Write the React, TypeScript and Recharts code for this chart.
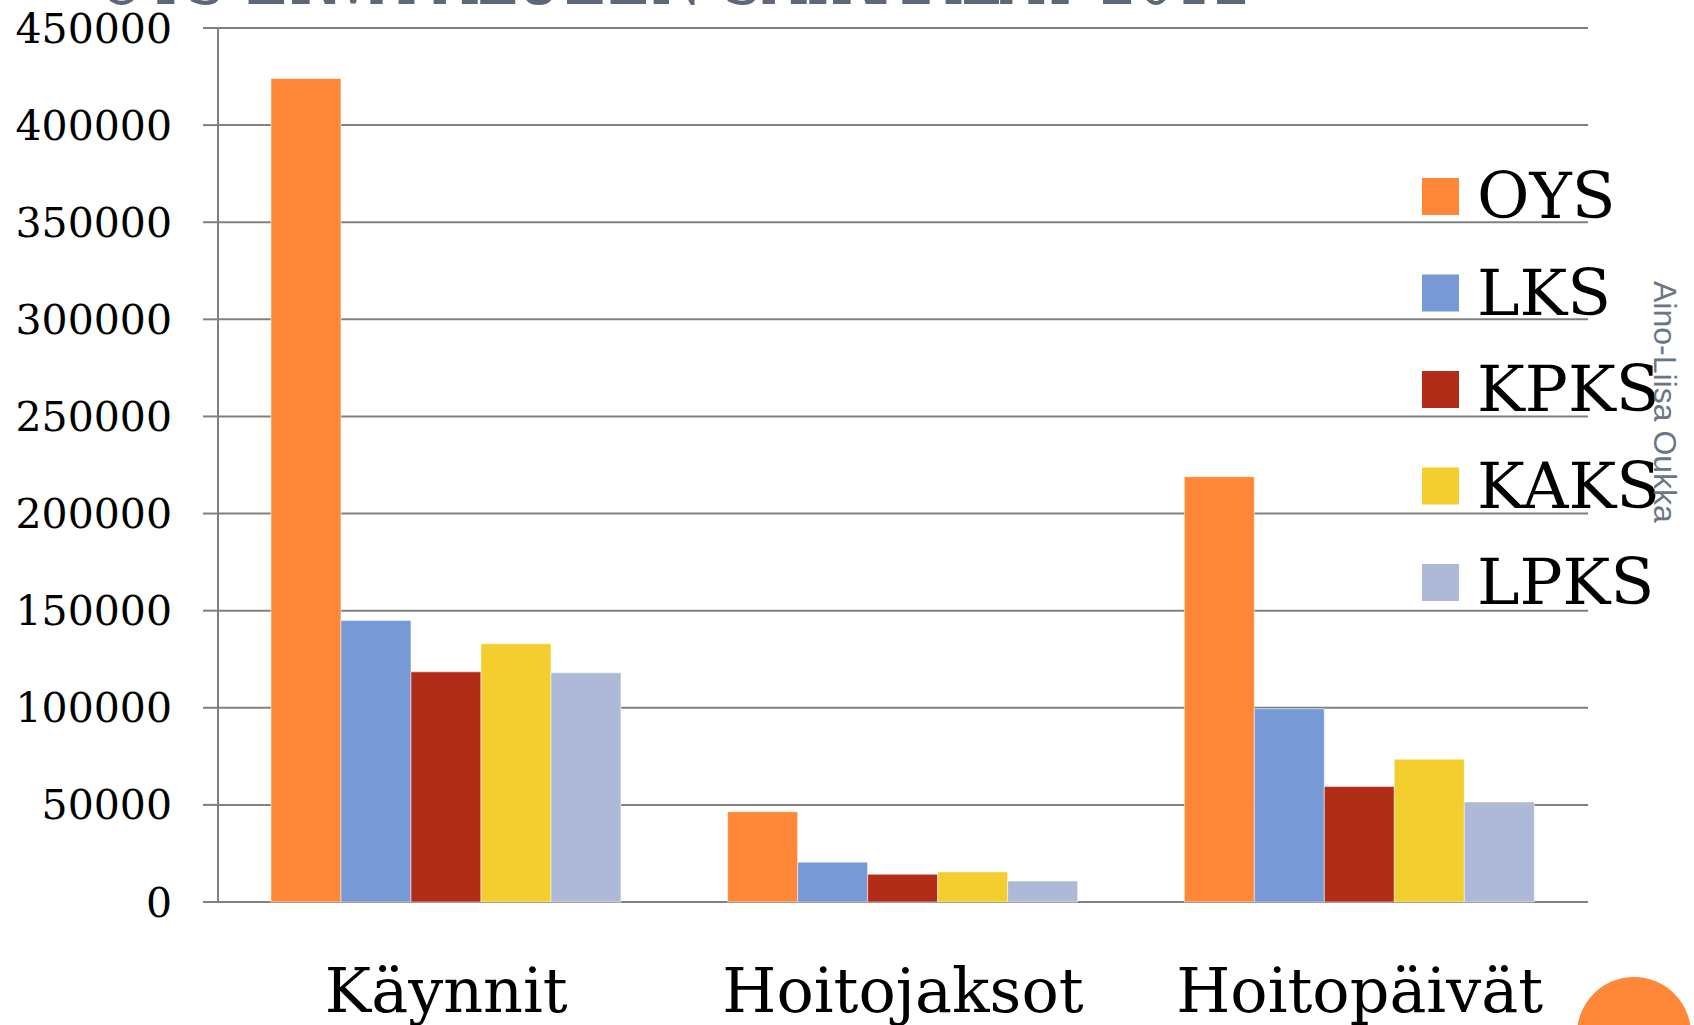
import { Bar, BarChart, CartesianGrid, XAxis, YAxis } from 'recharts';

const categories = ['Käynnit', 'Hoitojaksot', 'Hoitopäivät'];
const oys = [424000, 46500, 219000];
const lks = [145000, 20500, 99500];
const kpks = [118500, 14300, 59500];
const kaks = [133000, 15500, 73500];
const lpks = [118000, 10800, 51500];

const seriesNames = ['OYS', 'LKS', 'KPKS', 'KAKS', 'LPKS'];
const seriesColors = ['#FF8838', '#7799D6', '#B22D18', '#F4CD2E', '#ADB9D6'];
const seriesValues = [oys, lks, kpks, kaks, lpks];

const yTicks = [0, 50000, 100000, 150000, 200000, 250000, 300000, 350000, 400000, 450000];
const edgeTicks = [0, 1, 2, 3];

const data = categories.map((name, i) => {
  const row: Record<string, string | number> = { name };
  seriesNames.forEach((s, j) => {
    row[s] = seriesValues[j][i];
  });
  return row;
});

const serif = '"DejaVu Serif", serif';
const gray = '#808080';

function CategoryTick(props: any) {
  const { x, y, payload } = props;
  return (
    <text x={x} y={y + 110} textAnchor="middle" fill="#000" fontSize={62} fontFamily={serif}>
      {payload.value}
    </text>
  );
}

export default function App() {
  return (
    <div
      style={{
        position: 'fixed',
        left: 0,
        top: 0,
        width: 1694,
        height: 1025,
        overflow: 'hidden',
        background: '#fff',
      }}
    >
      <BarChart
        width={1694}
        height={1025}
        data={data}
        margin={{ top: 28, right: 106, bottom: 0, left: 0 }}
        barCategoryGap="11.6%"
        barGap={0}
      >
        <CartesianGrid xAxisId="cat" vertical={false} stroke={gray} strokeWidth={2} />
        <XAxis
          xAxisId="edges"
          type="number"
          domain={[0, 3]}
          ticks={edgeTicks}
          allowDataOverflow
          height={0}
          axisLine={false}
          tick={false}
          tickSize={18}
          tickLine={{ stroke: gray, strokeWidth: 2 }}
        />
        <XAxis
          xAxisId="cat"
          dataKey="name"
          height={123}
          axisLine={false}
          tickLine={false}
          tickSize={0}
          tickMargin={0}
          interval={0}
          tick={<CategoryTick />}
        />
        <YAxis
          width={218}
          domain={[0, 450000]}
          ticks={yTicks}
          interval={0}
          tickSize={15}
          tickMargin={31}
          axisLine={{ stroke: gray, strokeWidth: 2 }}
          tickLine={{ stroke: gray, strokeWidth: 2 }}
          tick={{ fill: '#000', fontSize: 41, fontFamily: serif }}
        />
        {seriesNames.map((s, j) => (
          <Bar
            key={s}
            xAxisId="cat"
            dataKey={s}
            fill={seriesColors[j]}
            stroke="#ffffff"
            strokeOpacity={0.5}
            strokeWidth={1}
            isAnimationActive={false}
          />
        ))}
      </BarChart>

      <svg
        width={1694}
        height={1025}
        style={{ position: 'absolute', left: 0, top: 0, pointerEvents: 'none' }}
      >
        {/* title, cut off by the top edge */}
        <text
          x={97}
          y={4}
          fill="#5c6878"
          fontSize={80}
          fontFamily={serif}
          textLength={1154}
          lengthAdjust="spacingAndGlyphs"
        >
          OYS ERVA-ALUEEN SAIRAALAT 2012
        </text>

        {seriesNames.map((s, j) => (
          <g key={s}>
            <rect x={1422} y={178 + j * 96.5} width={37} height={37} fill={seriesColors[j]} />
            <text x={1477} y={218 + j * 96.5} fill="#000" fontSize={64} fontFamily={serif}>
              {s}
            </text>
          </g>
        ))}

        <text
          transform="rotate(90 1654 281)"
          x={1654}
          y={281}
          fill="#6b7685"
          fontSize={32}
          fontFamily='"Liberation Sans", Arial, sans-serif'
        >
          Aino-Liisa Oukka
        </text>

        <circle cx={1634} cy={1034} r={57} fill="#FF8838" />
      </svg>
    </div>
  );
}
